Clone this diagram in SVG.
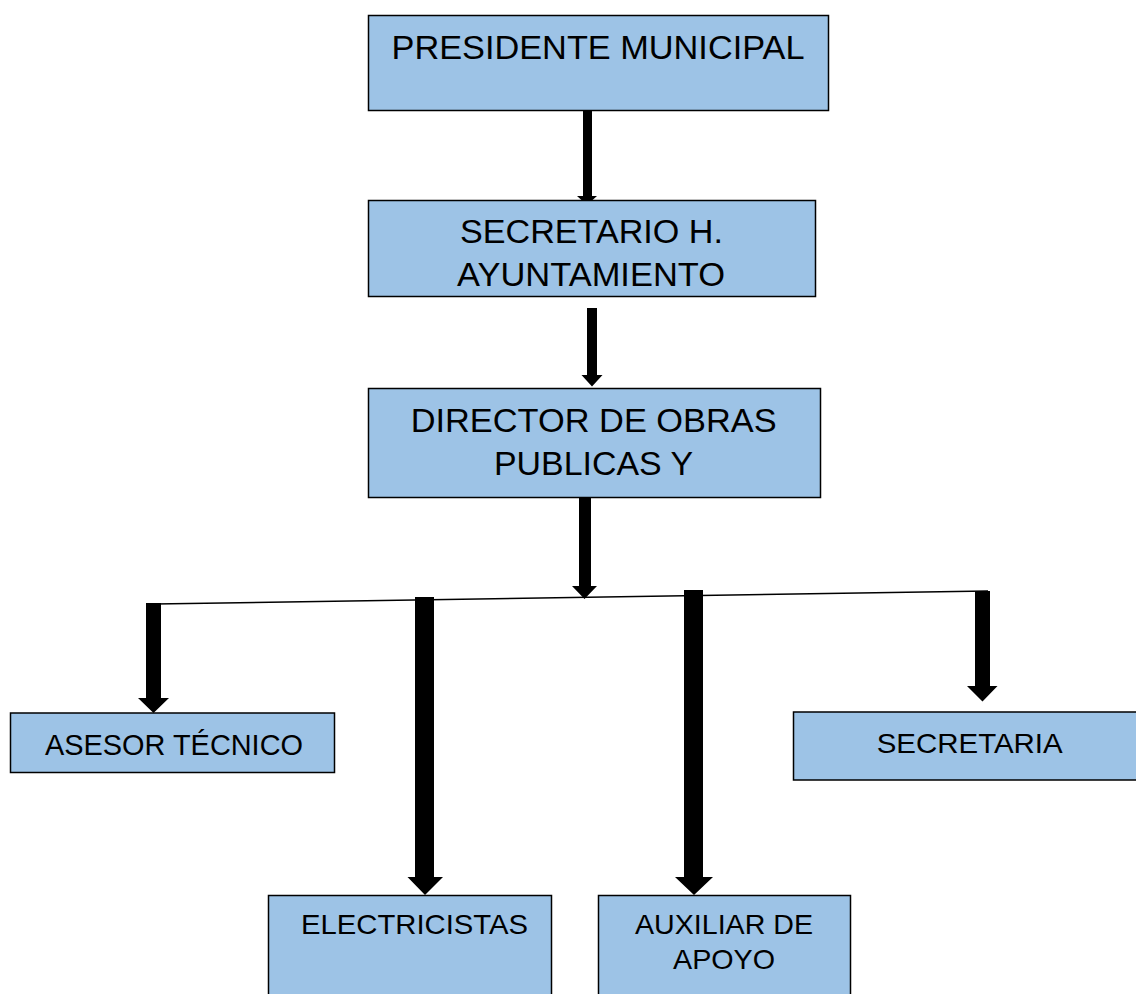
<svg xmlns="http://www.w3.org/2000/svg" width="1136" height="994" viewBox="0 0 1136 994">
<style>
.box{fill:#9DC3E6;stroke:#000;stroke-width:1.5}
.t{font-family:"Liberation Sans",Arial,sans-serif;fill:#000;text-anchor:middle}
.big{font-size:33.5px}
.small{font-size:28px}
.arr{fill:#000;stroke:none}
.ln{stroke:#000;stroke-width:1.5;fill:none}
</style>
<rect width="1136" height="994" fill="#fff"/>
<g id="connectors">
<line class="ln" x1="155" y1="604" x2="988" y2="591"/>
<path class="arr" d="M583,110 H592 V196 H597 L587,205 L577,196 H583 Z"/>
<path class="arr" d="M587,308 H597 V375 H602.5 L592,386.5 L581.5,375 H587 Z"/>
<path class="arr" d="M579,493 H591 V586 H597 L584.5,599 L572,586 H579 Z"/>
<path class="arr" d="M146,603 H161 V698 H169 L153.5,713 L138,698 H146 Z"/>
<path class="arr" d="M415,597 H434 V877 H443 L425,895 L407.5,877 H415 Z"/>
<path class="arr" d="M684,590 H703 V877 H713 L694,895 L675,877 H684 Z"/>
<path class="arr" d="M975,591 H990 V686 H997.5 L982.5,701.5 L967,686 H975 Z"/>
</g>
<g id="presidente">
<rect class="box" x="368.5" y="15.5" width="460" height="95"/>
<text class="t big" x="598" y="59" textLength="413" lengthAdjust="spacingAndGlyphs">PRESIDENTE MUNICIPAL</text>
</g>
<g id="secretario">
<rect class="box" x="368.5" y="200.5" width="447" height="96"/>
<text class="t big" x="591.5" y="243" textLength="263" lengthAdjust="spacingAndGlyphs">SECRETARIO H.</text>
<text class="t big" x="591" y="286" textLength="268" lengthAdjust="spacingAndGlyphs">AYUNTAMIENTO</text>
</g>
<g id="director">
<rect class="box" x="368.5" y="388.5" width="452" height="109"/>
<text class="t big" x="593.7" y="432" textLength="366" lengthAdjust="spacingAndGlyphs">DIRECTOR DE OBRAS</text>
<text class="t big" x="593.5" y="474.5" textLength="199" lengthAdjust="spacingAndGlyphs">PUBLICAS Y</text>
</g>
<g id="asesor">
<rect class="box" x="10.5" y="713" width="324" height="59.5"/>
<text class="t" style="font-size:30px" x="174" y="755" textLength="258" lengthAdjust="spacingAndGlyphs">ASESOR TÉCNICO</text>
</g>
<g id="secretaria">
<rect class="box" x="793.5" y="712" width="350" height="68"/>
<text class="t small" x="969.7" y="752.5" textLength="186" lengthAdjust="spacingAndGlyphs">SECRETARIA</text>
</g>
<g id="electricistas">
<rect class="box" x="268.5" y="895.5" width="283" height="110"/>
<text class="t small" x="414.5" y="934" textLength="227" lengthAdjust="spacingAndGlyphs">ELECTRICISTAS</text>
</g>
<g id="auxiliar">
<rect class="box" x="598.5" y="895.5" width="252" height="110"/>
<text class="t small" x="724" y="934" textLength="178" lengthAdjust="spacingAndGlyphs">AUXILIAR DE</text>
<text class="t small" x="724" y="969" textLength="102" lengthAdjust="spacingAndGlyphs">APOYO</text>
</g>
</svg>
